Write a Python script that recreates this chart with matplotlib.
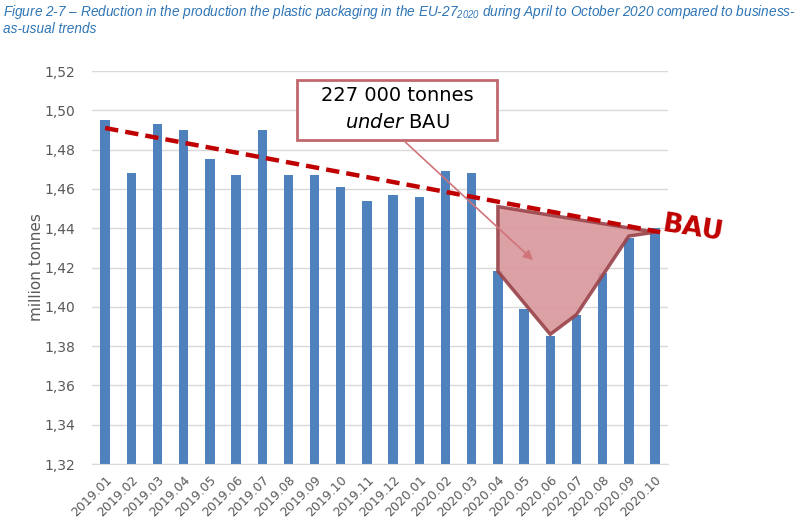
import matplotlib.pyplot as plt
from matplotlib.patches import Polygon, Rectangle
from matplotlib.ticker import FuncFormatter, MultipleLocator

# --- données ---------------------------------------------------------
months = ["2019.01", "2019.02", "2019.03", "2019.04", "2019.05", "2019.06",
          "2019.07", "2019.08", "2019.09", "2019.10", "2019.11", "2019.12",
          "2020.01", "2020.02", "2020.03", "2020.04", "2020.05", "2020.06",
          "2020.07", "2020.08", "2020.09", "2020.10"]
production = [1.495, 1.468, 1.493, 1.490, 1.475, 1.467,
              1.490, 1.467, 1.467, 1.461, 1.454, 1.457,
              1.456, 1.469, 1.468, 1.418, 1.399, 1.385,
              1.396, 1.417, 1.435, 1.440]

bau_x = [0, 21.2]
bau_y = [1.491, 1.438]

# zone "under BAU" (index du mois, valeur)
gap_x = [15, 15, 17, 18, 19, 20, 21]
gap_y = [1.451, 1.418, 1.386, 1.396, 1.416, 1.436, 1.438]

grey = "#595959"

fig = plt.figure(figsize=(8.03, 5.28), dpi=100)
ax = fig.add_axes([0.1146, 0.1212, 0.7174, 0.7443])

x = list(range(len(months)))
ax.bar(x, production, width=0.36, color="#4F81BD", zorder=2)

ax.set_xlim(-0.5, len(months) - 0.5)
ax.set_ylim(1.32, 1.52)
ax.yaxis.set_major_locator(MultipleLocator(0.02))
ax.yaxis.set_major_formatter(FuncFormatter(lambda v, p: f"{v:.2f}".replace(".", ",")))
ax.grid(axis="y", color="#D9D9D9", linewidth=1, zorder=0)
ax.set_axisbelow(True)
for s in ["left", "right", "top"]:
    ax.spines[s].set_visible(False)
ax.spines["bottom"].set_color("#D9D9D9")
ax.tick_params(axis="y", length=0, labelsize=10, labelcolor=grey, pad=12)
ax.tick_params(axis="x", length=0, labelsize=9, labelcolor=grey, pad=7)
ax.set_xticks(x)
ax.set_xticklabels(months, rotation=45, ha="right", rotation_mode="anchor")
ax.set_ylabel("million tonnes", fontsize=11, color=grey, labelpad=0)

# zone sous BAU
poly = Polygon(list(zip(gap_x, gap_y)), closed=True, facecolor="#D9979B",
               edgecolor="#99444A", linewidth=2.5, alpha=0.9, zorder=3)
ax.add_patch(poly)

# ligne BAU
ax.plot(bau_x, bau_y, color="#C00000", linewidth=3.2, linestyle=(0, (3, 1.6)),
        zorder=4, solid_capstyle="butt")
ax.text(22.45, 1.4395, "BAU", color="#C00000", fontsize=19, fontweight="bold",
        rotation=-9, ha="center", va="center")

# encadré
box = Rectangle((7.33, 1.4849), 7.64, 0.0305, facecolor="white",
                edgecolor="#C0686D", linewidth=2, zorder=5, clip_on=False)
ax.add_patch(box)
ax.text(11.15, 1.5006, "227 000 tonnes\n$\\mathit{under}$ BAU", fontsize=14,
        ha="center", va="center", linespacing=1.5, zorder=6)
ax.annotate("", xy=(16.42, 1.4228), xytext=(11.38, 1.4849),
            arrowprops=dict(arrowstyle="-|>", color="#D0747A", lw=1.2,
                            mutation_scale=14), zorder=5)

# titre
title_col = "#2E75B6"
plt.rcParams["mathtext.fontset"] = "custom"
plt.rcParams["mathtext.rm"] = "Liberation Sans:italic"
fig.text(0.004, 0.978, "Figure 2-7 – Reduction in the production the plastic packaging in the EU-27$_{\\mathrm{2020}}$ during April to October 2020 compared to business-",
         fontsize=9.8, style="italic", color=title_col, va="center", family="Liberation Sans")
fig.text(0.004, 0.946, "as-usual trends", fontsize=9.8, style="italic",
         color=title_col, va="center", family="Liberation Sans")

fig.savefig("out.png", dpi=100)
